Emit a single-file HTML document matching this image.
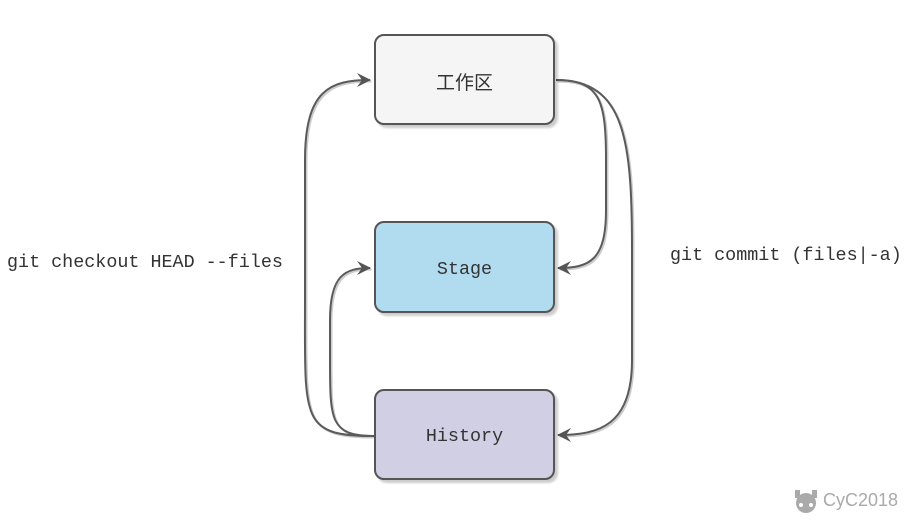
<!DOCTYPE html>
<html><head><style>
body{margin:0;width:920px;height:521px;background:#fff;overflow:hidden;position:relative;font-family:"Liberation Mono",monospace}
.b{position:absolute;left:374px;width:181px;border:2px solid #555;border-radius:10px;box-shadow:3px 3px 2px rgba(0,0,0,.2);display:flex;align-items:center;justify-content:center;font-size:18.4px;color:#333;padding-top:4px;box-sizing:border-box}
.t{position:absolute;font-size:18.4px;color:#333;white-space:nowrap}
</style></head><body>
<svg width="920" height="521" style="position:absolute;left:0;top:0">
<defs><marker id="a" markerWidth="16" markerHeight="16" refX="13" refY="8" orient="auto" markerUnits="userSpaceOnUse"><path d="M0,1 L14,8 L0,15 L5,8 Z" fill="#555"/></marker></defs>
<g fill="none" stroke="#ccc" stroke-width="2" transform="translate(1.5,1.5)">
<path d="M374,436 C300,436 305,420 305,300 L305,160 C305,90 330,80 370,80"/>
<path d="M374,436 C330,436 330,420 330,360 L330,320 C330,275 345,268 370,268"/>
<path d="M556,80 C600,80 606,100 606,160 L606,210 C606,260 590,268 558,268"/>
<path d="M556,80 C625,80 632,140 632,250 L632,360 C632,425 600,435 558,435"/>
</g>
<g fill="none" stroke="#5a5a5a" stroke-width="2" marker-end="url(#a)">
<path d="M374,436 C300,436 305,420 305,300 L305,160 C305,90 330,80 370,80"/>
<path d="M374,436 C330,436 330,420 330,360 L330,320 C330,275 345,268 370,268"/>
<path d="M556,80 C600,80 606,100 606,160 L606,210 C606,260 590,268 558,268"/>
<path d="M556,80 C625,80 632,140 632,250 L632,360 C632,425 600,435 558,435"/>
</g>
<g fill="#aaa"><circle cx="806" cy="503" r="10"/><rect x="795" y="490" width="5" height="8"/><rect x="812" y="490" width="5" height="8"/></g>
<g fill="#fff"><circle cx="801" cy="505" r="2"/><circle cx="811" cy="505" r="2"/></g>
</svg>
<div class="b" style="top:34px;height:91px;background:#f5f5f5;font-family:'Liberation Sans','Noto Sans CJK SC',sans-serif;font-size:19px">工作区</div>
<div class="b" style="top:221px;height:92px;background:#b1dcef">Stage</div>
<div class="b" style="top:389px;height:91px;background:#d0cfe3">History</div>
<div class="t" style="left:7px;top:252px">git checkout HEAD --files</div>
<div class="t" style="left:670px;top:245px">git commit (files|-a)</div>
<div style="position:absolute;left:823px;top:490px;font-family:'Liberation Sans',sans-serif;font-size:18px;color:#aaa">CyC2018</div>
</body></html>
